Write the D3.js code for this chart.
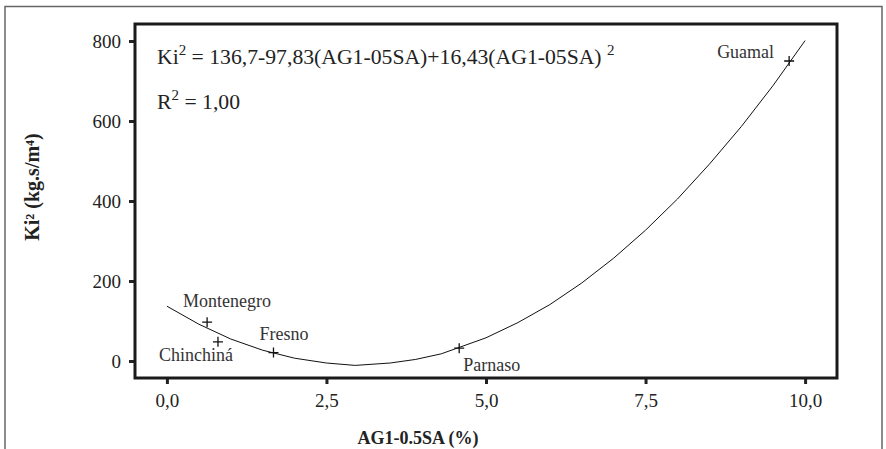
<!DOCTYPE html>
<html>
<head>
<meta charset="utf-8">
<script src="https://cdn.jsdelivr.net/npm/d3@7"></script>
<style>
  body { margin: 0; background: #fff; }
</style>
</head>
<body>
<div id="mydiv"></div>
<script>
// sites (measured points)
const sites = ['Montenegro', 'Chinchiná', 'Fresno', 'Parnaso', 'Guamal'];
const siteX = [0.63, 0.80, 1.67, 4.58, 9.75];
const siteY = [97, 48, 21, 32, 750];

// fitted curve
const curveX = [0, 0.5, 1, 1.5, 2, 2.5, 2.95, 3.5, 3.9, 4.3, 5, 5.5, 6, 6.5, 7, 7.5, 8, 8.5, 9, 9.5, 10];
const curveY = [137, 92, 55, 27, 7, -5, -11, -5, 4, 18, 58, 96, 141, 195, 257, 327, 405, 492, 586, 689, 801];

const xTicks = [0, 2.5, 5, 7.5, 10];
const yTicks = [0, 200, 400, 600, 800];

const W = 886, H = 449;
const plot = {left: 135, right: 837, top: 24, bottom: 378};
const serif = 'Liberation Serif';

const svg = d3.select('#mydiv')
  .append('svg')
  .attr('width', W)
  .attr('height', H);

// outer grey frame (open at the bottom)
svg.append('path')
  .attr('d', `M5,${H + 5} L5,6.5 L882,6.5 L882,${H + 5}`)
  .attr('fill', 'none')
  .attr('stroke', '#666')
  .attr('stroke-width', 1.5);

const x = d3.scaleLinear().domain([-0.5, 10.5]).range([plot.left, plot.right]);
const y = d3.scaleLinear().domain([-42.5, 842.5]).range([plot.bottom, plot.top]);

const comma = d => d3.format('.1f')(d).replace('.', ',');

// axes
const gx = svg.append('g')
  .attr('transform', `translate(0,${plot.bottom})`)
  .call(d3.axisBottom(x).tickValues(xTicks).tickFormat(comma).tickSize(6).tickPadding(10));
const gy = svg.append('g')
  .attr('transform', `translate(${plot.left},0)`)
  .call(d3.axisLeft(y).tickValues(yTicks).tickSize(6).tickPadding(8));

[gx, gy].forEach(g => {
  g.attr('font-family', serif).attr('font-size', 19);
  g.select('.domain').remove();
  g.selectAll('.tick line').attr('stroke', '#222').attr('stroke-width', 3);
  g.selectAll('.tick text').attr('fill', '#222');
});

// plot frame
svg.append('rect')
  .attr('x', plot.left)
  .attr('y', plot.top)
  .attr('width', plot.right - plot.left)
  .attr('height', plot.bottom - plot.top)
  .attr('fill', 'none')
  .attr('stroke', '#1a1a1a')
  .attr('stroke-width', 3);

// curve
const line = d3.line()
  .x((d, i) => x(curveX[i]))
  .y(d => y(d));

svg.append('path')
  .datum(curveY)
  .attr('d', line)
  .attr('fill', 'none')
  .attr('stroke', '#111')
  .attr('stroke-width', 1);

// markers
const pts = sites.map((s, i) => ({name: s, x: siteX[i], y: siteY[i]}));
const gp = svg.append('g');
gp.selectAll('path.mark')
  .data(pts).enter()
  .append('path')
  .attr('class', 'mark')
  .attr('d', d => `M${x(d.x) - 5},${y(d.y)} h10 M${x(d.x)},${y(d.y) - 5} v10`)
  .attr('stroke', '#111')
  .attr('stroke-width', 1.3);

// labels (offsets from the marker)
const labelDx = [-24, -59, -14, 4, -72];
const labelDy = [-15, 19, -13, 23, -3];
gp.selectAll('text.lab')
  .data(pts).enter()
  .append('text')
  .attr('class', 'lab')
  .attr('x', (d, i) => x(d.x) + labelDx[i])
  .attr('y', (d, i) => y(d.y) + labelDy[i])
  .attr('fill', '#333')
  .attr('font-family', serif)
  .attr('font-size', 18)
  .text(d => d.name);

// equation
const eq = svg.append('text')
  .attr('x', 157)
  .attr('y', 64)
  .attr('fill', '#222')
  .attr('font-family', serif)
  .attr('font-size', 21.7);
eq.append('tspan').text('Ki');
eq.append('tspan').attr('dy', -9).attr('font-size', 15).text('2');
eq.append('tspan').attr('dy', 9).text(' = 136,7-97,83(AG1-05SA)+16,43(AG1-05SA) ');
eq.append('tspan').attr('dy', -9).attr('font-size', 15).text('2');

const r2 = svg.append('text')
  .attr('x', 157)
  .attr('y', 109)
  .attr('fill', '#222')
  .attr('font-family', serif)
  .attr('font-size', 21.7);
r2.append('tspan').text('R');
r2.append('tspan').attr('dy', -9).attr('font-size', 15).text('2');
r2.append('tspan').attr('dy', 9).text(' = 1,00');

// axis titles
svg.append('text')
  .attr('x', 418)
  .attr('y', 444)
  .attr('text-anchor', 'middle')
  .attr('fill', '#222')
  .attr('font-family', serif)
  .attr('font-size', 18)
  .attr('font-weight', 'bold')
  .text('AG1-0.5SA (%)');

svg.append('text')
  .attr('transform', 'translate(39,187) rotate(-90)')
  .attr('text-anchor', 'middle')
  .attr('fill', '#222')
  .attr('font-family', serif)
  .attr('font-size', 20)
  .attr('font-weight', 'bold')
  .text('Ki² (kg.s/m⁴)');
</script>
</body>
</html>
